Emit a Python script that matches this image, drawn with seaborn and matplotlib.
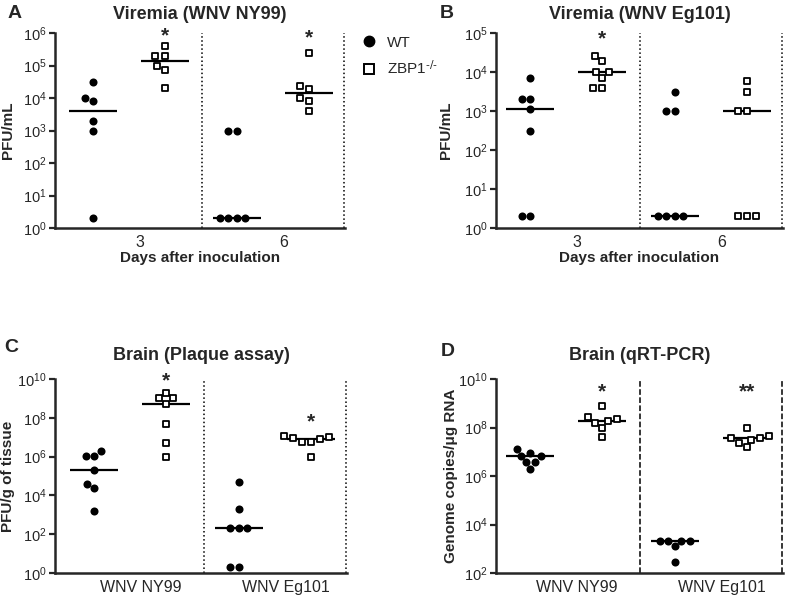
import matplotlib
matplotlib.use("Agg")
import matplotlib.pyplot as plt
import seaborn as sns
import pandas as pd
import numpy as np
from matplotlib.lines import Line2D
from matplotlib.ticker import FixedLocator, NullLocator, LogFormatterSciNotation

# A - viremia WNV NY99 (PFU/mL)
a_groups = ["3 WT", "3 KO", "6 WT", "6 KO"]
a_wt_d3 = [3e4, 1e4, 8e3, 2e3, 1e3, 2]
a_ko_d3 = [4e5, 2e5, 2e5, 1e5, 7.5e4, 2e4]
a_wt_d6 = [1e3, 1e3, 2, 2, 2, 2]
a_ko_d6 = [2.4e5, 2.4e4, 1.9e4, 1e4, 8e3, 4e3]

# B - viremia WNV Eg101 (PFU/mL)
b_groups = ["3 WT", "3 KO", "6 WT", "6 KO"]
b_wt_d3 = [7e3, 2e3, 2e3, 1.1e3, 300, 2, 2]
b_ko_d3 = [2.6e4, 1.9e4, 1e4, 1e4, 7e3, 3.9e3, 3.9e3]
b_wt_d6 = [3e3, 1e3, 1e3, 2, 2, 2, 2]
b_ko_d6 = [6e3, 3e3, 1e3, 1e3, 2, 2, 2]

# C - brain plaque assay (PFU/g)
c_groups = ["NY99 WT", "NY99 KO", "Eg101 WT", "Eg101 KO"]
c_wt_ny = [2e6, 1.1e6, 1.1e6, 2e5, 4e4, 2.5e4, 1.6e3]
c_ko_ny = [2e9, 1e9, 1e9, 5e8, 5e7, 5e6, 1e6]
c_wt_eg = [5e4, 2e3, 200, 200, 200, 2, 2]
c_ko_eg = [1.2e7, 1e7, 9e6, 8e6, 6e6, 6e6, 1e6]

# D - brain qRT-PCR (genome copies / ug RNA)
d_groups = ["NY99 WT", "NY99 KO", "Eg101 WT", "Eg101 KO"]
d_wt_ny = [1.3e7, 9e6, 6.6e6, 6.6e6, 3.8e6, 3.8e6, 1.9e6]
d_ko_ny = [8e8, 2.8e8, 2.2e8, 1.9e8, 1.6e8, 1e8, 4.2e7]
d_wt_eg = [2.1e3, 2.1e3, 2.1e3, 2.1e3, 1.3e3, 290]
d_ko_eg = [1e8, 4.5e7, 3.6e7, 3.6e7, 3.2e7, 2.4e7, 1.5e7]

days_labels = ["3", "6"]
strain_labels = ["WNV NY99", "WNV Eg101"]


def make_df(groups, series):
    rows = []
    for g, vals in zip(groups, series):
        for v in vals:
            rows.append({"group": g, "genotype": g.split()[-1], "value": v})
    return pd.DataFrame(rows)


def draw_panel(ax, df, order, xlim, ylim, yticks, ylabel, title, ticklabels,
               xlabel=None, stars=(), sep=":", title_pad=10, ylab_x=-0.138):
    ax.set_yscale("log")
    wt = df[df["genotype"] == "WT"]
    ko = df[df["genotype"] == "KO"]
    sns.swarmplot(data=wt, x="group", y="value", order=order, ax=ax,
                  color="black", marker="o", size=5.8, linewidth=0)
    sns.swarmplot(data=ko, x="group", y="value", order=order, ax=ax,
                  color="white", edgecolor="black", marker="s", size=5.0,
                  linewidth=1.3)
    sns.pointplot(data=df, x="group", y="value", order=order, ax=ax,
                  estimator="median", errorbar=None, color="black",
                  marker="_", linestyle="none", markersize=34,
                  markeredgewidth=1.6)

    ax.set_xlim(*xlim)
    ax.set_ylim(*ylim)
    ax.yaxis.set_major_locator(FixedLocator(yticks))
    ax.yaxis.set_minor_locator(NullLocator())
    ax.yaxis.set_major_formatter(LogFormatterSciNotation())
    ax.set_xticks([0.65, 2.65], ticklabels)
    ax.tick_params(axis="x", length=0, pad=5, labelsize=11.5)
    ax.tick_params(axis="y", length=4, width=1.6, pad=2, labelsize=10.5)
    for s in ["top", "right"]:
        ax.spines[s].set_visible(False)
    for s in ["left", "bottom"]:
        ax.spines[s].set_linewidth(1.8)

    ax.axvline(1.52, color="black", ls=sep, lw=1.1)
    ax.axvline(xlim[1] - 0.02, color="black", ls=sep, lw=1.1)

    ax.set_ylabel(ylabel, fontsize=11, fontweight="bold")
    ax.yaxis.set_label_coords(ylab_x, 0.5)
    if xlabel:
        ax.set_xlabel(xlabel, fontsize=11, fontweight="bold", labelpad=1)
    else:
        ax.set_xlabel("")
    ax.set_title(title, fontsize=13, fontweight="bold", pad=title_pad)

    for x, y, txt in stars:
        ax.text(x, y, txt, ha="center", va="center", fontsize=15,
                fontweight="bold", clip_on=False)


sns.set_style("ticks")
plt.rcParams["font.family"] = ["Liberation Sans", "DejaVu Sans"]
plt.rcParams["mathtext.default"] = "regular"

fig = plt.figure(figsize=(7.87, 5.98), dpi=100)
W, H = 787, 598

ax_a = fig.add_axes([55 / W, 1 - 228 / H, 290 / W, 195 / H])
ax_b = fig.add_axes([496 / W, 1 - 228 / H, 287 / W, 195 / H])
ax_c = fig.add_axes([55 / W, 1 - 573 / H, 292 / W, 194 / H])
ax_d = fig.add_axes([496 / W, 1 - 573 / H, 287 / W, 194 / H])

df_a = make_df(a_groups, [a_wt_d3, a_ko_d3, a_wt_d6, a_ko_d6])
df_b = make_df(b_groups, [b_wt_d3, b_ko_d3, b_wt_d6, b_ko_d6])
df_c = make_df(c_groups, [c_wt_ny, c_ko_ny, c_wt_eg, c_ko_eg])
df_d = make_df(d_groups, [d_wt_ny, d_ko_ny, d_wt_eg, d_ko_eg])

draw_panel(ax_a, df_a, a_groups, (-0.52, 3.5), (1, 1e6),
           [10.0 ** k for k in range(0, 7)], "PFU/mL",
           "Viremia (WNV NY99)", days_labels,
           xlabel="Days after inoculation",
           stars=[(1, 8e5, "*"), (3, 7e5, "*")])
draw_panel(ax_b, df_b, b_groups, (-0.47, 3.5), (1, 1e5),
           [10.0 ** k for k in range(0, 6)], "PFU/mL",
           "Viremia (WNV Eg101)", days_labels,
           xlabel="Days after inoculation",
           stars=[(1, 7e4, "*")], ylab_x=-0.15)
draw_panel(ax_c, df_c, c_groups, (-0.54, 3.5), (1, 1e10),
           [10.0 ** k for k in range(0, 11, 2)], "PFU/g of tissue",
           "Brain (Plaque assay)", strain_labels,
           stars=[(1, 8e9, "*"), (3, 6e7, "*")], title_pad=14, ylab_x=-0.137)
draw_panel(ax_d, df_d, d_groups, (-0.47, 3.5), (1e2, 1e10),
           [10.0 ** k for k in range(2, 11, 2)], "Genome copies/\u03bcg RNA",
           "Brain (qRT-PCR)", strain_labels,
           stars=[(1, 3e9, "*"), (3, 3e9, "**")], sep="--", title_pad=14,
           ylab_x=-0.132)

for x, y, letter in [(8, 13, "A"), (440, 13, "B"), (4, 348, "C"), (441, 352, "D")]:
    fig.text(x / W, 1 - y / H, letter, fontsize=14, fontweight="bold",
             va="center", ha="left")

handles = [
    Line2D([], [], marker="o", color="black", ls="none", markersize=7.5),
    Line2D([], [], marker="s", ls="none", markerfacecolor="white",
           markeredgecolor="black", markeredgewidth=1.4, markersize=6.5),
]
fig.legend(handles, ["WT", "ZBP1$^{\\text{-/-}}$"], loc="upper left",
           bbox_to_anchor=(346 / W, 1 - 22 / H), frameon=False,
           fontsize=11, handletextpad=0.6, labelspacing=0.6,
           handlelength=1.2)

fig.savefig("out.png", dpi=100)
